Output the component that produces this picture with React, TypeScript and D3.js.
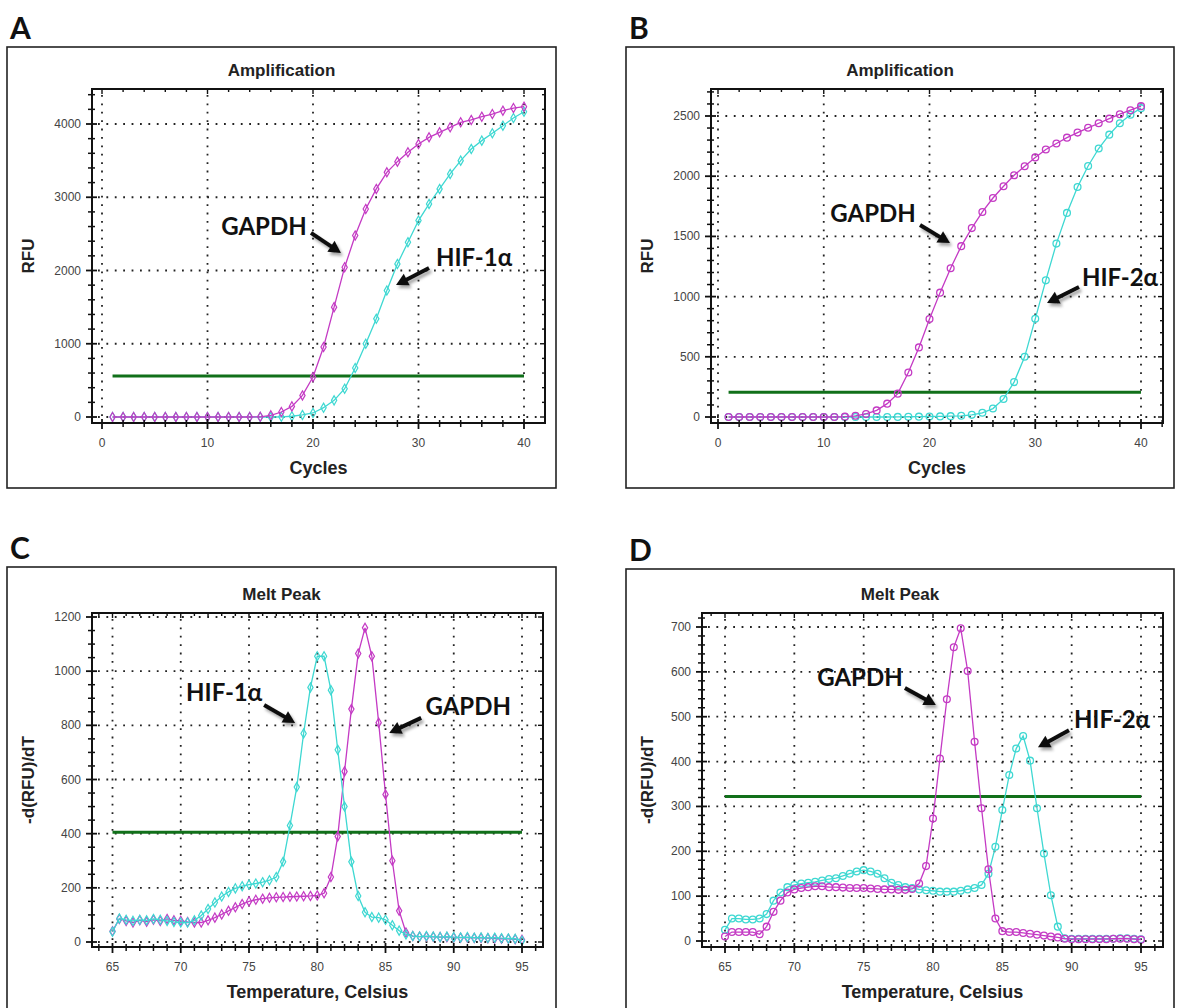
import React from "react";
import * as d3 from "d3";

// ---------- DATA ----------
const cycles = [1,2,3,4,5,6,7,8,9,10,11,12,13,14,15,16,17,18,19,20,21,22,23,24,25,26,27,28,29,30,31,32,33,34,35,36,37,38,39,40];

const temperatures = [65,65.5,66,66.5,67,67.5,68,68.5,69,69.5,70,70.5,71,71.5,72,72.5,73,73.5,74,74.5,75,75.5,76,76.5,77,77.5,78,78.5,79,79.5,80,80.5,81,81.5,82,82.5,83,83.5,84,84.5,85,85.5,86,86.5,87,87.5,88,88.5,89,89.5,90,90.5,91,91.5,92,92.5,93,93.5,94,94.5,95];

const ampA_GAPDH = [0,0,0,0,0,0,0,0,0,0,0,0,0,0,3,23,68,145,295,545,955,1500,2045,2477,2840,3114,3340,3486,3614,3727,3818,3886,3955,4023,4055,4100,4136,4182,4218,4236];
const ampA_HIF1a = [0,0,0,0,0,0,0,0,0,0,0,0,0,0,0,0,2,10,28,55,127,227,386,669,1000,1340,1727,2090,2386,2682,2909,3114,3318,3500,3659,3773,3873,3977,4082,4168];

const ampB_GAPDH = [0,0,0,0,0,0,0,0,0,0,0,3,10,25,55,111,194,369,578,814,1033,1236,1419,1569,1703,1819,1917,2008,2083,2156,2222,2272,2320,2362,2402,2440,2478,2515,2548,2582];
const ampB_HIF2a = [0,0,0,0,0,0,0,0,0,0,0,0,0,0,0,0,1,2,3,4,5,7,10,18,35,70,150,290,500,815,1135,1440,1695,1910,2085,2230,2345,2440,2510,2565];

const meltC_GAPDH = [40,85,78,72,80,75,82,78,85,80,78,
  74,72,72,80,90,102,115,128,140,150,156,160,163,165,166,167,168,169,170,172,
  180,240,390,630,860,1065,1160,1055,810,545,300,115,35,22,20,20,19,18,18,17,
  16,16,15,15,14,13,12,12,10,8];
const meltC_HIF1a = [38,87,82,78,82,80,85,82,78,74,72,
  72,80,98,122,146,168,185,198,206,212,216,221,228,240,296,430,572,770,940,1055,
  1055,930,710,500,296,170,110,92,90,82,62,42,28,22,20,22,20,18,20,18,
  17,18,16,17,15,16,14,13,12,5];

const meltD_GAPDH = [10,20,20,20,20,15,32,65,90,108,115,
  118,120,122,122,120,120,119,118,118,118,117,116,115,115,114,114,116,128,167,273,
  407,539,655,697,602,444,296,160,50,22,20,20,18,16,14,12,10,8,5,4,
  4,4,4,4,4,5,5,5,4,3];
const meltD_HIF2a = [25,50,50,48,48,50,60,90,108,120,125,
  128,130,132,135,138,140,145,150,155,158,155,150,140,130,125,120,118,115,113,112,
  110,110,110,112,115,118,125,150,210,292,370,429,457,402,296,195,102,32,6,5,
  5,5,5,5,5,5,6,6,5,4];

const ampTicksA = [0, 1000, 2000, 3000, 4000];
const ampTicksB = [0, 500, 1000, 1500, 2000, 2500];
const cycleTicks = [0, 10, 20, 30, 40];
const meltTicksC = [0, 200, 400, 600, 800, 1000, 1200];
const meltTicksD = [0, 100, 200, 300, 400, 500, 600, 700];
const tempTicks = [65, 70, 75, 80, 85, 90, 95];

const thresholds = { A: 560, B: 205, C: 405, D: 322 };

// ---------- STYLE ----------
const MAGENTA = "#c43ac4";
const CYAN = "#3ed8d2";
const GREEN = "#11701a";
const SANS = "'Liberation Sans', Arial, sans-serif";
const CAL = "Lato, 'Open Sans', sans-serif";

type Ann = { text: string; tip: [number, number]; tail: [number, number]; label: [number, number] };
type PanelCfg = {
  letter: string;
  box: [number, number, number, number];
  title: string;
  frame: [number, number, number, number];
  xDomain: [number, number];
  xRange: [number, number];
  yDomain: [number, number];
  yRange: [number, number];
  xTicks: number[];
  yTicks: number[];
  xMinor: number;
  yMinor: number;
  xLabel: string;
  yLabel: string;
  xs: number[];
  series: { values: number[]; color: string }[];
  marker: "diamond" | "circle";
  threshold: number;
  anns: Ann[];
};

const panels: PanelCfg[] = [
  {
    letter: "A", box: [7, 47, 556, 488], title: "Amplification", frame: [92, 89, 545, 423],
    xDomain: [0, 40], xRange: [102, 524], yDomain: [0, 4000], yRange: [417, 124],
    xTicks: cycleTicks, yTicks: ampTicksA, xMinor: 2, yMinor: 200,
    xLabel: "Cycles", yLabel: "RFU", xs: cycles,
    series: [{ values: ampA_HIF1a, color: CYAN }, { values: ampA_GAPDH, color: MAGENTA }],
    marker: "diamond", threshold: thresholds.A,
    anns: [
      { text: "GAPDH", tip: [22.65, 2240], tail: [-30, -20], label: [-77, -26] },
      { text: "HIF-1α", tip: [27.87, 1802], tail: [33, -17], label: [78, -28] },
    ],
  },
  {
    letter: "B", box: [626, 47, 1174, 488], title: "Amplification", frame: [711, 89, 1163, 423],
    xDomain: [0, 40], xRange: [718, 1141], yDomain: [0, 2500], yRange: [417, 116],
    xTicks: cycleTicks, yTicks: ampTicksB, xMinor: 2, yMinor: 100,
    xLabel: "Cycles", yLabel: "RFU", xs: cycles,
    series: [{ values: ampB_HIF2a, color: CYAN }, { values: ampB_GAPDH, color: MAGENTA }],
    marker: "circle", threshold: thresholds.B,
    anns: [
      { text: "GAPDH", tip: [21.94, 1445], tail: [-30, -18], label: [-77, -30] },
      { text: "HIF-2α", tip: [31.11, 947], tail: [32, -16], label: [73, -25] },
    ],
  },
  {
    letter: "C", box: [7, 567, 556, 1012], title: "Melt Peak", frame: [92, 613, 543, 947],
    xDomain: [65, 95], xRange: [112.5, 522], yDomain: [0, 1200], yRange: [942, 617],
    xTicks: tempTicks, yTicks: meltTicksC, xMinor: 1, yMinor: 50,
    xLabel: "Temperature, Celsius", yLabel: "-d(RFU)/dT", xs: temperatures,
    series: [{ values: meltC_GAPDH, color: MAGENTA }, { values: meltC_HIF1a, color: CYAN }],
    marker: "diamond", threshold: thresholds.C,
    anns: [
      { text: "HIF-1α", tip: [78.38, 809], tail: [-31, -18], label: [-71, -30] },
      { text: "GAPDH", tip: [85.27, 772], tail: [32, -15], label: [79, -26] },
    ],
  },
  {
    letter: "D", box: [626, 569, 1174, 1012], title: "Melt Peak", frame: [702, 613, 1163, 947],
    xDomain: [65, 95], xRange: [725, 1141], yDomain: [0, 700], yRange: [941, 627],
    xTicks: tempTicks, yTicks: meltTicksD, xMinor: 1, yMinor: 20,
    xLabel: "Temperature, Celsius", yLabel: "-d(RFU)/dT", xs: temperatures,
    series: [{ values: meltD_HIF2a, color: CYAN }, { values: meltD_GAPDH, color: MAGENTA }],
    marker: "circle", threshold: thresholds.D,
    anns: [
      { text: "GAPDH", tip: [80.21, 526], tail: [-31, -17], label: [-76, -28] },
      { text: "HIF-2α", tip: [87.57, 432], tail: [31, -17], label: [74, -28] },
    ],
  },
];

function Arrow({ x, y, dx, dy }: { x: number; y: number; dx: number; dy: number }) {
  const tx = x + dx, ty = y + dy;
  const len = Math.hypot(x - tx, y - ty);
  const ux = (x - tx) / len, uy = (y - ty) / len;
  const hl = 12, hw = 6.5;
  const bx = x - ux * hl, by = y - uy * hl;
  const px = -uy, py = ux;
  const pts = `${x},${y} ${bx + px * hw},${by + py * hw} ${bx - px * hw},${by - py * hw}`;
  return (
    <g filter="url(#shadow)">
      <line x1={tx} y1={ty} x2={bx + ux * 2} y2={by + uy * 2} stroke="#111" strokeWidth={4} />
      <polygon points={pts} fill="#111" />
    </g>
  );
}

function Panel({ p }: { p: PanelCfg }) {
  const x = d3.scaleLinear().domain(p.xDomain).range(p.xRange);
  const y = d3.scaleLinear().domain(p.yDomain).range(p.yRange);
  const [fl, ft, fr, fb] = p.frame;
  const [bl, bt, br, bb] = p.box;
  const xMin = x.invert(fl), xMax = x.invert(fr);
  const yMin = y.invert(fb), yMax = y.invert(ft);
  const xMinorTicks = d3.range(Math.ceil(xMin / p.xMinor) * p.xMinor, xMax, p.xMinor);
  const yMinorTicks = d3.range(Math.ceil(yMin / p.yMinor) * p.yMinor, yMax, p.yMinor);
  const isMajX = (v: number) => p.xTicks.some((t) => Math.abs(t - v) < 1e-6);
  const isMajY = (v: number) => p.yTicks.some((t) => Math.abs(t - v) < 1e-6);
  const line = d3.line<number>().x((_, i) => x(p.xs[i])).y((v) => y(v));
  const diamond = d3.symbol().type(d3.symbolDiamond).size(24)() as string;
  const frameCx = (fl + fr) / 2;
  const dotted = { stroke: "#222", strokeWidth: 1.8, strokeDasharray: "1.8 6.6" };

  return (
    <g>
      <text x={bl + 3} y={bt - 8} fontFamily={CAL} fontWeight={700} fontSize={30} fill="#111">{p.letter}</text>
      <rect x={bl} y={bt} width={br - bl} height={bb - bt} fill="#fff" stroke="#222" strokeWidth={1.6} />
      <text x={(bl + br) / 2} y={ft - 13} textAnchor="middle" fontFamily={SANS} fontWeight={700} fontSize={17} fill="#222">{p.title}</text>

      {/* grid */}
      {p.yTicks.map((t) => (
        <line key={"gy" + t} x1={fl + 6} x2={fr - 2} y1={y(t)} y2={y(t)} {...dotted} />
      ))}
      {p.xTicks.map((t) => (
        <line key={"gx" + t} x1={x(t)} x2={x(t)} y1={ft + 6} y2={fb - 2} {...dotted} />
      ))}

      {/* threshold */}
      <line x1={x(p.xs[0])} x2={x(p.xs[p.xs.length - 1])} y1={y(p.threshold)} y2={y(p.threshold)} stroke={GREEN} strokeWidth={3} />

      {/* series */}
      {p.series.map((s, si) => (
        <g key={"s" + si}>
          <path d={line(s.values) as string} fill="none" stroke={s.color} strokeWidth={1.3} />
          {s.values.map((v, i) =>
            p.marker === "diamond" ? (
              <path key={i} d={diamond} transform={`translate(${x(p.xs[i])},${y(v)})`} fill="none" stroke={s.color} strokeWidth={1.2} />
            ) : (
              <circle key={i} cx={x(p.xs[i])} cy={y(v)} r={3.4} fill="none" stroke={s.color} strokeWidth={1.3} />
            )
          )}
        </g>
      ))}

      {/* frame */}
      <rect x={fl} y={ft} width={fr - fl} height={fb - ft} fill="none" stroke="#111" strokeWidth={2} />
      {/* ticks */}
      {xMinorTicks.map((t) => {
        const m = isMajX(t);
        const X = x(t);
        return (
          <g key={"xt" + t}>
            <line x1={X} x2={X} y1={fb - (m ? 4 : 3)} y2={fb + (m ? 6 : 4)} stroke="#111" strokeWidth={m ? 1.8 : 1.5} />
            <line x1={X} x2={X} y1={ft} y2={ft + (m ? 5 : 3)} stroke="#111" strokeWidth={1.4} />
          </g>
        );
      })}
      {yMinorTicks.map((t) => {
        const m = isMajY(t);
        const Y = y(t);
        return (
          <g key={"yt" + t}>
            <line x1={fl - (m ? 6 : 4)} x2={fl + (m ? 5 : 3)} y1={Y} y2={Y} stroke="#111" strokeWidth={m ? 1.8 : 1.5} />
            <line x1={fr - (m ? 5 : 3)} x2={fr} y1={Y} y2={Y} stroke="#111" strokeWidth={1.4} />
          </g>
        );
      })}
      {/* tick labels */}
      {p.xTicks.map((t) => (
        <text key={"xl" + t} x={x(t)} y={fb + 24} textAnchor="middle" fontFamily={SANS} fontSize={12} fill="#444">{t}</text>
      ))}
      {p.yTicks.map((t) => (
        <text key={"yl" + t} x={fl - 11} y={y(t) + 4} textAnchor="end" fontFamily={SANS} fontSize={12} fill="#444">{t}</text>
      ))}
      <text x={frameCx} y={fb + 51} textAnchor="middle" fontFamily={SANS} fontWeight={700} fontSize={18} fill="#222">{p.xLabel}</text>
      <text transform={`translate(${bl + 27},${(ft + fb) / 2}) rotate(-90)`} textAnchor="middle" fontFamily={SANS} fontWeight={700} fontSize={17} fill="#222">{p.yLabel}</text>

      {/* annotations */}
      {p.anns.map((a, i) => {
        const tx = x(a.tip[0]), ty = y(a.tip[1]);
        return (
          <g key={"a" + i}>
            <Arrow x={tx} y={ty} dx={a.tail[0]} dy={a.tail[1]} />
            <text x={tx + a.label[0]} y={ty + a.label[1] + 8.5} textAnchor="middle" fontFamily={CAL} fontWeight={700} fontSize={24} fill="#111">{a.text}</text>
          </g>
        );
      })}
    </g>
  );
}

export default function App() {
  return (
    <svg width={1177} height={1008} style={{ position: "absolute", left: 0, top: 0, background: "#fff" }}>
      <defs>
        <filter id="shadow" x="-50%" y="-50%" width="200%" height="200%">
          <feDropShadow dx="2" dy="3" stdDeviation="1.6" floodColor="#000" floodOpacity="0.35" />
        </filter>
      </defs>
      <rect x={0} y={0} width={1177} height={1008} fill="#fff" />
      {panels.map((p) => (
        <Panel key={p.letter} p={p} />
      ))}
    </svg>
  );
}
